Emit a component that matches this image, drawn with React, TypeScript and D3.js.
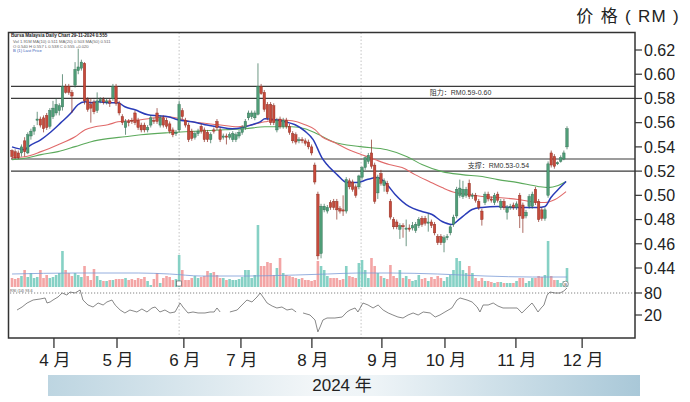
import React from "react";
import * as d3 from "d3";

// ---------- DATA (prices in thousandths of RM) ----------
// [open, high, low, close]
const ohlc: [number, number, number, number][] = [
  [537,538,530,532],[536,538,530,531],[535,537,530,531],[535,542,532,540],[545,548,532,536],
  [535,552,534,550],[549,555,546,553],[553,558,550,556],[562,569,558,563],[563,565,556,558],
  [564,566,552,555],[566,568,554,556],[557,572,555,570],[565,578,563,572],[568,580,566,575],
  [570,576,566,574],[573,600,570,590],[590,592,584,585],[590,592,583,585],[585,587,568,582],
  [591,610,589,604],[603,621,600,606],[605,612,603,610],[609,610,575,578],[579,581,569,571],
  [575,580,560,572],[577,579,567,569],[570,585,568,578],[578,581,576,579],[579,581,575,577],
  [577,580,575,578],[578,580,573,576],[580,592,578,590],[590,592,574,576],[576,578,566,568],
  [565,567,558,560],[556,563,550,561],[561,563,557,560],[562,564,559,561],[568,570,558,560],
  [562,564,554,556],[558,560,552,554],[558,560,552,554],[554,558,552,556],[558,566,556,564],
  [562,564,559,561],[568,572,559,561],[558,566,556,564],[564,566,556,558],[562,564,555,557],
  [559,561,551,553],[554,556,548,550],[551,554,549,552],[554,578,552,575],[570,572,563,565],
  [562,564,556,558],[558,560,544,546],[553,555,545,547],[548,553,546,551],[551,555,549,553],
  [557,559,551,553],[554,556,544,546],[552,554,544,546],[546,552,543,550],[554,556,551,553],
  [561,563,554,556],[554,556,544,546],[548,551,546,549],[549,551,542,548],[548,552,546,550],
  [546,553,544,551],[546,552,544,550],[549,554,547,552],[552,558,550,556],[556,563,554,561],
  [564,570,562,568],[565,570,563,568],[564,570,562,568],[567,609,566,590],[590,592,583,584],
  [585,587,569,571],[575,577,562,564],[575,577,558,560],[574,576,558,560],[554,564,552,562],
  [563,565,555,557],[557,564,555,562],[562,564,555,557],[557,559,550,552],[551,553,543,545],
  [550,552,542,544],[545,548,543,546],[546,548,543,545],[545,547,541,543],[544,546,538,540],
  [540,542,533,535],[525,527,509,511],[501,503,447,450],[452,493,448,491],[488,493,486,491],
  [487,492,485,490],[494,496,488,490],[495,497,488,490],[495,497,480,488],[489,491,485,487],
  [488,500,483,487],[487,515,485,513],[512,514,505,507],[511,513,503,505],[507,509,498,500],
  [507,517,505,516],[515,524,513,523],[523,532,521,531],[528,535,526,533],[535,546,522,524],
  [525,527,493,495],[502,517,497,515],[518,521,508,510],[508,514,503,512],[510,512,501,503],
  [495,497,480,482],[480,482,472,474],[478,480,472,474],[472,477,464,475],[475,477,465,474],
  [472,480,458,473],[473,476,470,472],[473,478,471,475],[471,478,469,476],[475,482,473,480],
  [481,483,474,476],[481,483,475,477],[477,485,470,478],[478,480,473,475],[476,478,467,469],
  [466,468,459,461],[466,468,459,461],[461,467,453,465],[465,468,463,466],[469,476,467,474],
  [476,484,474,482],[483,507,481,505],[500,513,498,506],[499,512,497,505],[500,507,498,505],
  [510,513,497,499],[500,502,497,500],[500,502,494,496],[495,497,488,490],[487,489,475,480],
  [494,503,492,501],[501,503,495,497],[497,499,494,496],[494,502,492,500],[501,503,494,496],
  [490,497,488,495],[495,497,488,490],[486,492,480,490],[490,493,488,491],[492,494,488,490],
  [490,495,488,493],[500,502,473,483],[492,494,469,481],[483,488,481,486],[491,501,489,499],
  [491,503,489,501],[505,507,492,494],[495,497,478,480],[488,490,479,481],[481,490,479,488],
  [500,528,498,526],[535,537,523,525],[532,534,522,524],[526,528,525,527],[528,533,527,531],
  [530,537,529,535],[540,557,538,555],
];

// volume (x10k lots)
const volumes = [
  9,8,9,11,17,10,14,9,10,17, 9,12,9,10,12,14,36,17,14,11,
  14,12,10,21,11,7,18,11,7,6, 6,7,7,8,8,8,9,7,8,7,
  9,8,10,6,2,8,14,4,9,11, 10,7,8,32,17,7,7,9,11,9,
  10,11,16,14,15,12,9,9,7,8, 7,7,8,10,17,17,9,12,62,21,
  21,25,24,12,19,29,14,12,11,10, 9,8,9,7,7,6,7,26,21,17,
  11,9,9,9,7,8,21,11,10,9, 24,27,17,9,29,21,14,11,9,8,
  22,11,9,17,9,11,8,6,7,12, 8,9,6,10,8,11,9,6,10,12,
  17,29,26,17,14,21,14,9,6,9, 6,6,5,4,5,5,4,4,4,4,
  6,9,9,4,6,9,9,11,10,12, 46,11,7,7,4,6,19,
];

// moving averages: [candle index, price]
const maShort: [number, number][] = [
  [0,540],[4.1,537.7],[5.1,540],[9.2,546],[12.4,552.5],[15.5,560],[18.7,568],[20.9,574.8],
  [23.2,577.2],[25.1,576.4],[27.3,577.2],[30.4,576.4],[33.6,576.4],[35.8,573.1],[39,570.6],
  [43.1,566.5],[46.3,565.7],[49.5,564.9],[52.6,562.4],[57.1,560.7],[61.2,558.3],[65.3,556.6],
  [69.8,555],[72.9,555.8],[76.1,558.3],[78.7,560.7],[80.2,563.2],[83.4,562.4],[86.6,560.7],
  [89.8,558.3],[92.9,553],[95.5,546],[98.3,531],[99.9,525.4],[103.1,517.1],[106.2,510.5],
  [109.4,510.5],[112.6,513],[115.8,514.7],[118.9,508.9],[121.5,500.7],[125.9,490.8],
  [130,486.7],[133.2,484.2],[136.4,478.4],[139.5,476],[141.8,480.1],[143.7,484.2],
  [145.9,488.3],[149.1,490],[154.1,490.8],[158.3,490],[162.7,490],[166.8,490],[169,490.8],
  [170.9,498.2],[173.8,506.4],[175.7,511.4],
];
const maMid: [number, number][] = [
  [0,531.1],[4.1,531.9],[9.2,536.1],[14.6,541.8],[20,548.4],[23.2,554.2],[26.3,556.6],
  [30.4,558.3],[33.6,560.7],[36.8,561.6],[40.9,562.4],[45.4,564],[49.5,564.9],[57.1,560.7],
  [65.3,558.3],[71.7,556.6],[76.1,558.3],[80.2,560.7],[84.4,562.4],[88.8,561.6],[92.9,558.3],
  [96.1,554.2],[98.3,548.4],[102.4,543.5],[106.8,537.7],[110.9,533.6],[115.1,529.5],
  [119.6,525.4],[123.7,522.9],[127.8,517.1],[132.3,511.4],[136.4,506.4],[140.5,502.3],
  [144.9,500.7],[149.1,499],[154.1,498.2],[160.5,496.6],[166.8,494.1],[169,494.1],
  [172.2,496.6],[175.7,503.1],
];
const maLong: [number, number][] = [
  [0,529.5],[5.1,531.1],[9.2,533.6],[14.6,536.1],[20,540.2],[25.1,544.3],[30.4,546.8],
  [35.8,548.4],[40.9,550],[49.5,551.7],[54.9,552.5],[61.2,553.3],[67.6,554.2],[73.9,555],
  [80.2,556.6],[84.4,556.6],[88.8,556.6],[92.9,555],[96.7,550.9],[101.8,544.3],[110.4,540.2],
  [118.9,537.7],[125.3,531.9],[130,525.4],[136.4,519.6],[142.7,517.1],[149.1,515.5],
  [154.1,513],[160.5,510.5],[166.8,507.3],[170,506.4],[173.2,508.1],[175.7,511.4],
];
const volMA: [number, number][] = [
  [0,13],[20,14],[40,14],[50,13],[60,11],[75,11],[90,12],[100,13],[110,14],[120,14],
  [135,13],[150,11],[165,10],[176,10],
];
// RSI(14): [candle index, value]; null = gap
const rsi: ([number, number] | null)[] = [
  [1.6,33.6],[3.2,41.8],[4.8,52.7],[6.7,60.9],[8.9,63.6],[10.5,66.4],[11.1,52.7],[12.1,55.5],
  [13,60.9],[14.6,69.1],[15.9,80],[17.4,74.5],[18.4,82.7],[20,80],[21.6,88.2],[22.5,60.9],
  [24.1,47.3],[25.7,41.8],[27.3,52.7],[28.9,47.3],[30.1,55.5],[31.7,60.9],[32.7,47.3],
  [34.3,33.6],[35.8,25.5],[37.4,33.6],[39.6,28.2],[41.2,36.4],[42.8,28.2],[44.4,39.1],
  [45.4,41.8],[46.9,28.2],[48.5,33.6],[50.1,25.5],[51.7,28.2],[53.3,52.7],[54.2,41.8],
  [55.8,25.5],[57.4,28.2],[59,25.5],[61.2,25.5],[62.8,28.2],[64.1,28.2],[65,39.1],[66,28.2],
  null,
  [69.1,28.2],[71.4,33.6],[72.3,41.8],[74.5,60.9],[76.1,55.5],[77.7,69.1],[78.7,80],
  [79.6,69.1],[80.9,52.7],[82.5,44.5],[84,39.1],[85.6,41.8],[87.2,33.6],[88.8,36.4],[90.1,28.2],
  null,
  [92.3,25.5],[94.5,20],[96.1,6.4],[97,-26],[97.7,-12.7],[98.6,6.4],[99.9,11.8],[102.4,11.8],
  [104.7,14.5],[106.2,28.2],[107.2,33.6],[108.8,39.1],[109.7,28.2],[111.3,52.7],[112.9,47.3],
  [114.5,39.1],[116.1,47.3],[117.7,33.6],[119.3,25.5],[120.8,20],[122.4,14.5],[124,11.8],
  [125.6,20],[127.2,25.5],[128.8,20],[130.4,28.2],[132.6,25.5],[134.2,14.5],[135.7,20],
  [137.3,28.2],[139.5,39.1],[141.1,60.9],[142.1,66.4],[144.3,60.9],[145.9,55.5],[147.5,41.8],
  [148.4,28.2],[149.4,47.3],[151,47.3],[152.6,52.7],[154.1,44.5],[155.7,39.1],[157.9,39.1],
  [160.2,39.1],[161.7,25.5],[163.3,39.1],[164.9,52.7],[165.8,41.8],[166.8,28.2],[167.8,39.1],
  [168.7,47.3],[169.7,74.5],[170.6,82.7],[172.2,80],[173.8,80],[175,85.5],[176,93.6],
];

const priceTicks = [0.62, 0.6, 0.58, 0.56, 0.54, 0.52, 0.5, 0.48, 0.46, 0.44];
const rsiTicks = [80, 20];
const levelLines = [590, 580, 530, 520];
const levelNotes = [
  { text: "阻力：RM0.59-0.60", idx: 132.5, p: 585 },
  { text: "支撑：RM0.53-0.54", idx: 144.5, p: 525 },
];
const monthLabels = ["4 月", "5 月", "6 月", "7 月", "8 月", "9 月", "10 月", "11 月", "12 月"];
const monthTickIdx = [13.3, 33.3, 54.5, 72.6, 95.1, 117.3, 137.3, 159.8, 180.8];
const gridIdx = [53, 110.7];

const FONT = "'Liberation Sans', Arial, 'Noto Sans CJK SC', sans-serif";

export default function App() {
  const L = 8.5, R = 635, T = 32.5, B = 338;
  const x = d3.scaleLinear().domain([0, ohlc.length - 1]).range([12, 567]);
  const y = d3.scaleLinear().domain([440, 620]).range([268, 50]);
  const yv = d3.scaleLinear().domain([0, 70]).range([287, 217]);
  const yr = d3.scaleLinear().domain([20, 80]).range([315, 293]);

  const maLine = d3.line<[number, number]>().x(d => x(d[0])).y(d => y(d[1])).curve(d3.curveMonotoneX);
  const vmaLine = d3.line<[number, number]>().x(d => x(d[0])).y(d => yv(d[1])).curve(d3.curveMonotoneX);
  const rsiLine = d3.line<[number, number] | null>()
    .defined(d => d !== null)
    .x(d => x((d as [number, number])[0]))
    .y(d => yr((d as [number, number])[1]));

  const up = "#4f9d77", upDark = "#2f6b50", dn = "#c64a3b", dnDark = "#8a2b20";
  const bw = 2.5;

  return (
    <svg width={690} height={402} style={{ position: "absolute", left: 0, top: 0, background: "#fff" }}
      fontFamily={FONT}>
      <defs>
        <linearGradient id="band" x1="0" x2="1" y1="0" y2="0">
          <stop offset="0" stopColor="#bdd5e1" />
          <stop offset="0.45" stopColor="#f2f6f8" />
          <stop offset="0.55" stopColor="#eef4f7" />
          <stop offset="1" stopColor="#a9c8d8" />
        </linearGradient>
      </defs>

      {/* top unit label */}
      <text x={680} y={22} textAnchor="end" fontSize={17} letterSpacing={1.3} fill="#222">价 格 ( RM )</text>

      {/* legend (tiny) */}
      <text x={11} y={37} fontSize={4.6} fill="#222" fontWeight="bold">Bursa Malaysia Daily Chart  29-11-2024  0.555</text>
      <text x={13} y={43} fontSize={4.2} fill="#666">Vol 1.91M  MA(10) 0.511  MA(20) 0.503  MA(50) 0.511</text>
      <text x={13} y={47.5} fontSize={4.2} fill="#666">O 0.540 H 0.557 L 0.538 C 0.555 +0.020</text>
      <text x={13} y={52} fontSize={4.2} fill="#3a62b8">B (1)  Last Price</text>

      {/* vertical dotted gridlines */}
      {gridIdx.map((g, i) => (
        <line key={i} x1={x(g)} x2={x(g)} y1={T} y2={B} stroke="#aaa" strokeWidth={0.7} strokeDasharray="1.5 2" />
      ))}

      {/* support / resistance lines */}
      {levelLines.map((p, i) => (
        <line key={i} x1={11} x2={R} y1={y(p)} y2={y(p)} stroke="#3b3b3b" strokeWidth={1.2} />
      ))}
      {levelNotes.map((n, i) => (
        <text key={i} x={x(n.idx)} y={y(n.p)} dy="0.35em" fontSize={7} fill="#333">{n.text}</text>
      ))}

      {/* volume */}
      {volumes.map((v, i) => {
        const [o, , , c] = ohlc[i];
        return (
          <rect key={i} x={x(i) - 1.3} width={2.6} y={yv(v)} height={yv(0) - yv(v)}
            fill={c >= o ? "#86d1c5" : "#f3a5a5"} />
        );
      })}
      <path d={vmaLine(volMA) || ""} fill="none" stroke="#7a9bd6" strokeWidth={0.8} />
      <rect x={x(53) - 2.5} y={281} width={5} height={5} fill="#fff" stroke="#555" strokeWidth={0.6} />
      <circle cx={x(176) - 1.5} cy={284} r={2.8} fill="#fff" stroke="#666" strokeWidth={0.6} />
      <text x={x(176) - 1.5} y={285.6} fontSize={4} textAnchor="middle" fill="#444">B</text>

      {/* moving averages */}
      <path d={maLine(maLong) || ""} fill="none" stroke="#5caa5c" strokeWidth={1.1} />
      <path d={maLine(maMid) || ""} fill="none" stroke="#e06a6a" strokeWidth={1.1} />
      <path d={maLine(maShort) || ""} fill="none" stroke="#2a3cb8" strokeWidth={1.5} />

      {/* candles */}
      {ohlc.map(([o, h, l, c], i) => {
        const isUp = c >= o;
        const top = y(Math.max(o, c));
        const bot = y(Math.min(o, c));
        return (
          <g key={i}>
            <line x1={x(i)} x2={x(i)} y1={y(h)} y2={y(l)} stroke={isUp ? upDark : dnDark} strokeWidth={0.7} />
            <rect x={x(i) - bw / 2} width={bw} y={top} height={Math.max(1, bot - top)}
              fill={isUp ? up : dn} stroke={isUp ? upDark : dnDark} strokeWidth={0.4} />
          </g>
        );
      })}

      {/* RSI panel */}
      <line x1={10} x2={R} y1={yr(80)} y2={yr(80)} stroke="#666" strokeWidth={0.8} strokeDasharray="1.2 1.8" />
      <text x={10} y={291.5} fontSize={3.8} fill="#555">RSI (14) 93.6</text>
      <path d={rsiLine(rsi) || ""} fill="none" stroke="#555" strokeWidth={0.7} />

      {/* frame */}
      <rect x={L} y={T} width={R - L} height={B - T} fill="none" stroke="#333" strokeWidth={1.5} />

      {/* right axis */}
      {priceTicks.map((t, i) => (
        <g key={i}>
          <line x1={R} x2={R + 7} y1={y(t * 1000)} y2={y(t * 1000)} stroke="#333" strokeWidth={1.2} />
          <text x={R + 9} y={y(t * 1000)} dy="0.36em" fontSize={16} fill="#222">{d3.format(".2f")(t)}</text>
        </g>
      ))}
      {rsiTicks.map((t, i) => (
        <g key={i}>
          <line x1={R} x2={R + 7} y1={yr(t)} y2={yr(t)} stroke="#333" strokeWidth={1.2} />
          <text x={R + 9} y={yr(t)} dy="0.36em" fontSize={16} fill="#222">{t}</text>
        </g>
      ))}

      {/* month axis */}
      {monthTickIdx.map((m, i) => (
        <g key={i}>
          <line x1={x(m)} x2={x(m)} y1={B} y2={B + 10} stroke="#333" strokeWidth={1.3} />
          <text x={x(m) + 1} y={366} textAnchor="middle" fontSize={17} fill="#222">{monthLabels[i]}</text>
        </g>
      ))}

      {/* year band */}
      <rect x={48} y={375} width={592} height={21} fill="url(#band)" />
      <text x={342} y={391} textAnchor="middle" fontSize={17} fill="#222">2024 年</text>
    </svg>
  );
}
